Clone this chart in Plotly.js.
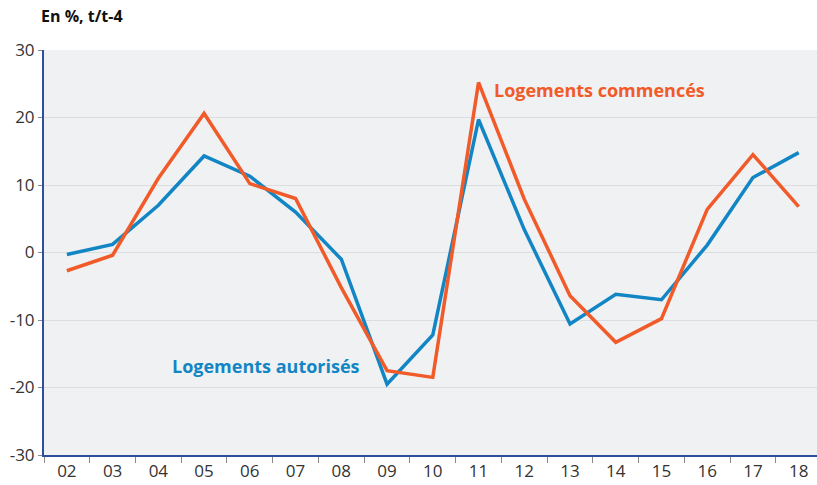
<!DOCTYPE html>
<html>
<head>
<meta charset="utf-8">
<script src="https://cdn.plot.ly/plotly-3.0.1.min.js"></script>
<style>html,body{margin:0;padding:0;background:#fff;}#chart{width:817px;height:485px;}</style>
</head>
<body>
<div id="chart"></div>
<script>
const years = ["02","03","04","05","06","07","08","09","10","11","12","13","14","15","16","17","18"];
const autorises = [-0.3, 1.2, 7.0, 14.3, 11.3, 6.0, -1.0, -19.5, -12.2, 19.7, 3.4, -10.6, -6.2, -7.0, 1.1, 11.1, 14.8];
const commences = [-2.7, -0.4, 11.0, 20.6, 10.2, 8.0, -5.2, -17.5, -18.5, 25.2, 7.9, -6.4, -13.3, -9.8, 6.4, 14.5, 6.8];
const yTicks = [-30, -20, -10, 0, 10, 20, 30];
const yTickText = ["-30", "-20", "-10", "0", "10", "20", "30"];

const blue = "#1286c4";
const orange = "#f15a29";
const font = "Open Sans, sans-serif";

const traces = [
  {x: years, y: autorises, type: "scatter", mode: "lines", name: "Logements autorisés",
   line: {color: blue, width: 3.5}},
  {x: years, y: commences, type: "scatter", mode: "lines", name: "Logements commencés",
   line: {color: orange, width: 3.5}}
];

const layout = {
  width: 817, height: 485,
  margin: {l: 44, r: 0, t: 50, b: 30},
  paper_bgcolor: "#ffffff",
  plot_bgcolor: "#f0f1f3",
  showlegend: false,
  font: {family: font, color: "#333", size: 16},
  title: {text: "<b>En %, t/t-4</b>", x: 41/817, xanchor: "left", xref: "container",
          y: 1 - 16/485, yanchor: "middle", yref: "container",
          font: {family: font, size: 16, color: "#111"}},
  xaxis: {type: "category", range: [-0.5, 16.4], showgrid: false, zeroline: false,
          showline: true, linecolor: "#2d4f9e", linewidth: 2,
          ticks: "outside", tickson: "boundaries", ticklen: 6, tickcolor: "#8a8a8a", tickwidth: 1,
          tickfont: {family: font, size: 17, color: "#333"}},
  yaxis: {range: [-30, 30], tickvals: yTicks, ticktext: yTickText, showgrid: true, gridcolor: "#dcdde0", gridwidth: 1,
          zeroline: false, showline: true, linecolor: "#2d4f9e", linewidth: 2,
          ticks: "outside", ticklen: 4, tickcolor: "#8a8a8a", tickwidth: 1,
          tickfont: {family: font, size: 17, color: "#333"}},
  annotations: [
    {x: 4.35, y: -16.8, xref: "x", yref: "y", text: "<b>Logements autorisés</b>", showarrow: false,
     font: {family: font, size: 18, color: blue}},
    {x: 11.65, y: 24.1, xref: "x", yref: "y", text: "<b>Logements commencés</b>", showarrow: false,
     font: {family: font, size: 18, color: orange}}
  ]
};

Plotly.newPlot("chart", traces, layout, {displayModeBar: false, staticPlot: true});
</script>
</body>
</html>
